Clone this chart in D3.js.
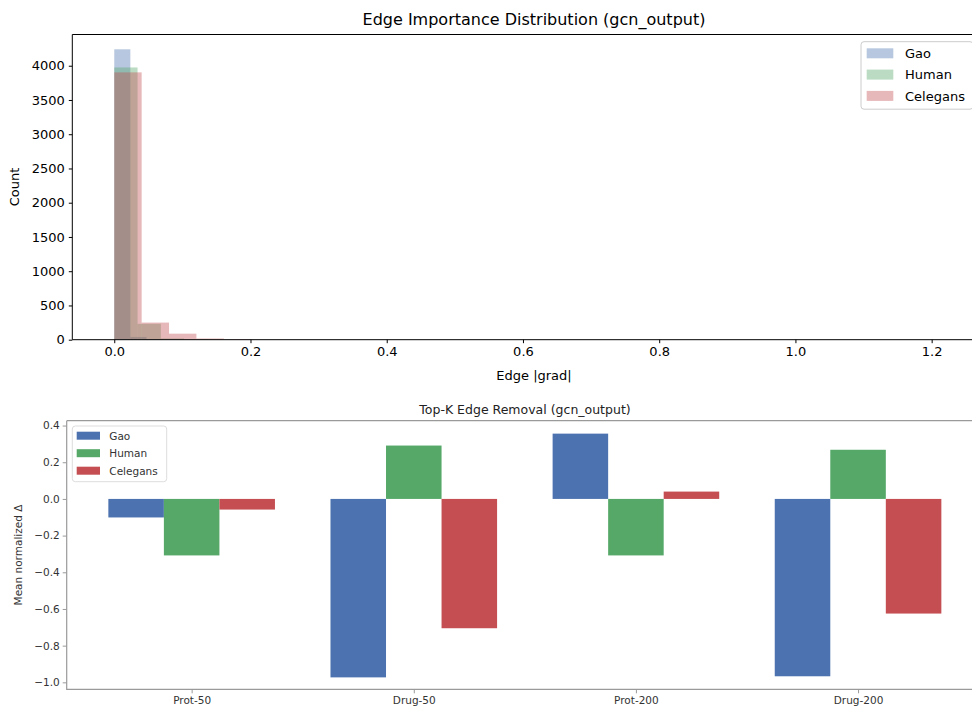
<!DOCTYPE html>
<html>
<head>
<meta charset="utf-8">
<script src="https://cdn.jsdelivr.net/npm/d3@7"></script>
<style>
  body { margin: 0; background: #fff; }
  svg { display: block; font-family: "DejaVu Sans", sans-serif; }
</style>
</head>
<body>
<script>
// ---- data ----
const seriesNames = ["Gao", "Human", "Celegans"];
const histColors = ["#4c72b0", "#55a868", "#c44e52"];

// histogram bin widths (in |grad| units) and counts
const gaoBinWidth = 0.0236;
const humanBinWidth = 0.0342;
const celegansBinWidth = 0.0402;
const gaoCounts = [4240, 40, 10, 4, 2, 1];
const humanCounts = [3975, 232, 18, 6, 2, 1];
const celegansCounts = [3903, 250, 88, 18, 6, 2];

const histXTicks = [0.0, 0.2, 0.4, 0.6, 0.8, 1.0, 1.2];
const histYTicks = [0, 500, 1000, 1500, 2000, 2500, 3000, 3500, 4000];

const removalCats = ["Prot-50", "Drug-50", "Prot-200", "Drug-200"];
const gaoDelta = [-0.101, -0.973, 0.356, -0.967];
const humanDelta = [-0.308, 0.291, -0.308, 0.268];
const celegansDelta = [-0.058, -0.705, 0.040, -0.625];
const removalYTicks = [0.4, 0.2, 0.0, -0.2, -0.4, -0.6, -0.8, -1.0];

const svg = d3.select("body").append("svg")
  .attr("width", 972)
  .attr("height", 708);

svg.append("rect").attr("width", 972).attr("height", 708).attr("fill", "#fff");

const fmtMinus = s => s.replace("-", "\u2212");

// ================= top: histogram =================
(function(){
  let m = {left: 72.3, right: 995.7, top: 34.5, bottom: 339.7};
  let x = d3.scaleLinear().domain([-0.0616, 1.294]).range([m.left, m.right]);
  let y = d3.scaleLinear().domain([0, 4456]).range([m.bottom, m.top]);

  let g = svg.append("g");
  let hists = [
    {w: gaoBinWidth, c: gaoCounts},
    {w: humanBinWidth, c: humanCounts},
    {w: celegansBinWidth, c: celegansCounts}
  ];
  hists.forEach(function(h, i){
    g.append("g").selectAll("rect")
      .data(h.c)
      .join("rect")
      .attr("x", (d, k) => x(k * h.w))
      .attr("width", (d, k) => x((k + 1) * h.w) - x(k * h.w))
      .attr("y", d => y(d))
      .attr("height", d => y(0) - y(d))
      .attr("fill", histColors[i])
      .attr("fill-opacity", 0.4);
  });

  // spines
  let ax = svg.append("g").attr("stroke", "#000").attr("stroke-width", 1).attr("fill", "none");
  ax.append("path").attr("d", `M${m.left},${m.top}H${m.right}M${m.left},${m.top}V${m.bottom}H${m.right}`);

  svg.append("g")
    .attr("transform", `translate(0,${m.bottom})`)
    .call(d3.axisBottom(x).tickValues(histXTicks).tickFormat(d3.format(".1f")).tickSize(3.5).tickPadding(4))
    .call(s => s.select(".domain").remove())
    .call(s => s.selectAll("text").attr("font-size", 13).attr("fill", "#000").attr("font-family", "DejaVu Sans"));

  svg.append("g")
    .attr("transform", `translate(${m.left},0)`)
    .call(d3.axisLeft(y).tickValues(histYTicks).tickFormat(d3.format("d")).tickSize(3.5).tickPadding(4))
    .call(s => s.select(".domain").remove())
    .call(s => s.selectAll("text").attr("font-size", 13).attr("fill", "#000").attr("font-family", "DejaVu Sans"));

  svg.append("text")
    .attr("x", 534).attr("y", 25)
    .attr("text-anchor", "middle")
    .attr("font-size", 16)
    .text("Edge Importance Distribution (gcn_output)");

  svg.append("text")
    .attr("x", 534).attr("y", 380)
    .attr("text-anchor", "middle")
    .attr("font-size", 13)
    .text("Edge |grad|");

  svg.append("text")
    .attr("transform", "translate(19,187) rotate(-90)")
    .attr("text-anchor", "middle")
    .attr("font-size", 13)
    .text("Count");

  // legend
  let lg = svg.append("g");
  lg.append("rect")
    .attr("x", 861).attr("y", 41.7).attr("width", 112).attr("height", 67.5)
    .attr("rx", 3).attr("fill", "#fff").attr("fill-opacity", 0.8).attr("stroke", "#ccc");
  seriesNames.forEach(function(n, i){
    let cy = 53.3 + i * 21.3;
    lg.append("rect").attr("x", 866.7).attr("y", cy - 5).attr("width", 26.6).attr("height", 10)
      .attr("fill", histColors[i]).attr("fill-opacity", 0.4);
    lg.append("text").attr("x", 905).attr("y", cy + 4.6).attr("font-size", 13).text(n);
  });
})();

// ================= bottom: grouped bars =================
(function(){
  let m = {left: 66.7, right: 983, top: 420.7, bottom: 689.3};
  let x = d3.scaleLinear().domain([-0.5625, 3.5625]).range([m.left, m.right]);
  let y = d3.scaleLinear().domain([-1.038, 0.4265]).range([m.bottom, m.top]);
  let barW = 0.25;
  let sets = [gaoDelta, humanDelta, celegansDelta];

  let g = svg.append("g");
  sets.forEach(function(vals, i){
    g.append("g").selectAll("rect")
      .data(vals)
      .join("rect")
      .attr("x", (d, k) => x(k + (i - 1) * barW - barW / 2))
      .attr("width", x(barW) - x(0))
      .attr("y", d => y(Math.max(0, d)))
      .attr("height", d => Math.abs(y(d) - y(0)))
      .attr("fill", histColors[i]);
  });

  let grey = "#9a9a9a";
  svg.append("path")
    .attr("d", `M${m.left},${m.top}H${m.right}M${m.left},${m.top}V${m.bottom}H${m.right}`)
    .attr("fill", "none").attr("stroke", grey).attr("stroke-width", 1.2);

  svg.append("g")
    .attr("transform", `translate(0,${m.bottom})`)
    .call(d3.axisBottom(x).tickValues(d3.range(removalCats.length)).tickFormat(i => removalCats[i]).tickSize(4).tickPadding(3))
    .call(s => s.select(".domain").remove())
    .call(s => s.selectAll("line").attr("stroke", grey))
    .call(s => s.selectAll("text").attr("font-size", 10.5).attr("fill", "#333").attr("font-family", "DejaVu Sans"));

  svg.append("g")
    .attr("transform", `translate(${m.left},0)`)
    .call(d3.axisLeft(y).tickValues(removalYTicks).tickFormat(d => fmtMinus(d3.format(".1f")(d))).tickSize(4).tickPadding(3))
    .call(s => s.select(".domain").remove())
    .call(s => s.selectAll("line").attr("stroke", grey))
    .call(s => s.selectAll("text").attr("font-size", 10.5).attr("fill", "#333").attr("font-family", "DejaVu Sans"));

  svg.append("text")
    .attr("x", 525).attr("y", 414)
    .attr("text-anchor", "middle")
    .attr("font-size", 12.5).attr("fill", "#222")
    .text("Top-K Edge Removal (gcn_output)");

  svg.append("text")
    .attr("transform", "translate(22,555) rotate(-90)")
    .attr("text-anchor", "middle")
    .attr("font-size", 10.5).attr("fill", "#333")
    .text("Mean normalized \u0394");

  let lg = svg.append("g");
  lg.append("rect")
    .attr("x", 72.3).attr("y", 426).attr("width", 94.4).attr("height", 55.7)
    .attr("rx", 3).attr("fill", "#fff").attr("fill-opacity", 0.8).attr("stroke", "#ddd");
  seriesNames.forEach(function(n, i){
    let cy = 435.7 + i * 17.5;
    lg.append("rect").attr("x", 76.7).attr("y", cy - 4).attr("width", 23.3).attr("height", 8)
      .attr("fill", histColors[i]);
    lg.append("text").attr("x", 109.3).attr("y", cy + 3.8).attr("font-size", 10.5).attr("fill", "#333").text(n);
  });
})();
</script>
</body>
</html>
